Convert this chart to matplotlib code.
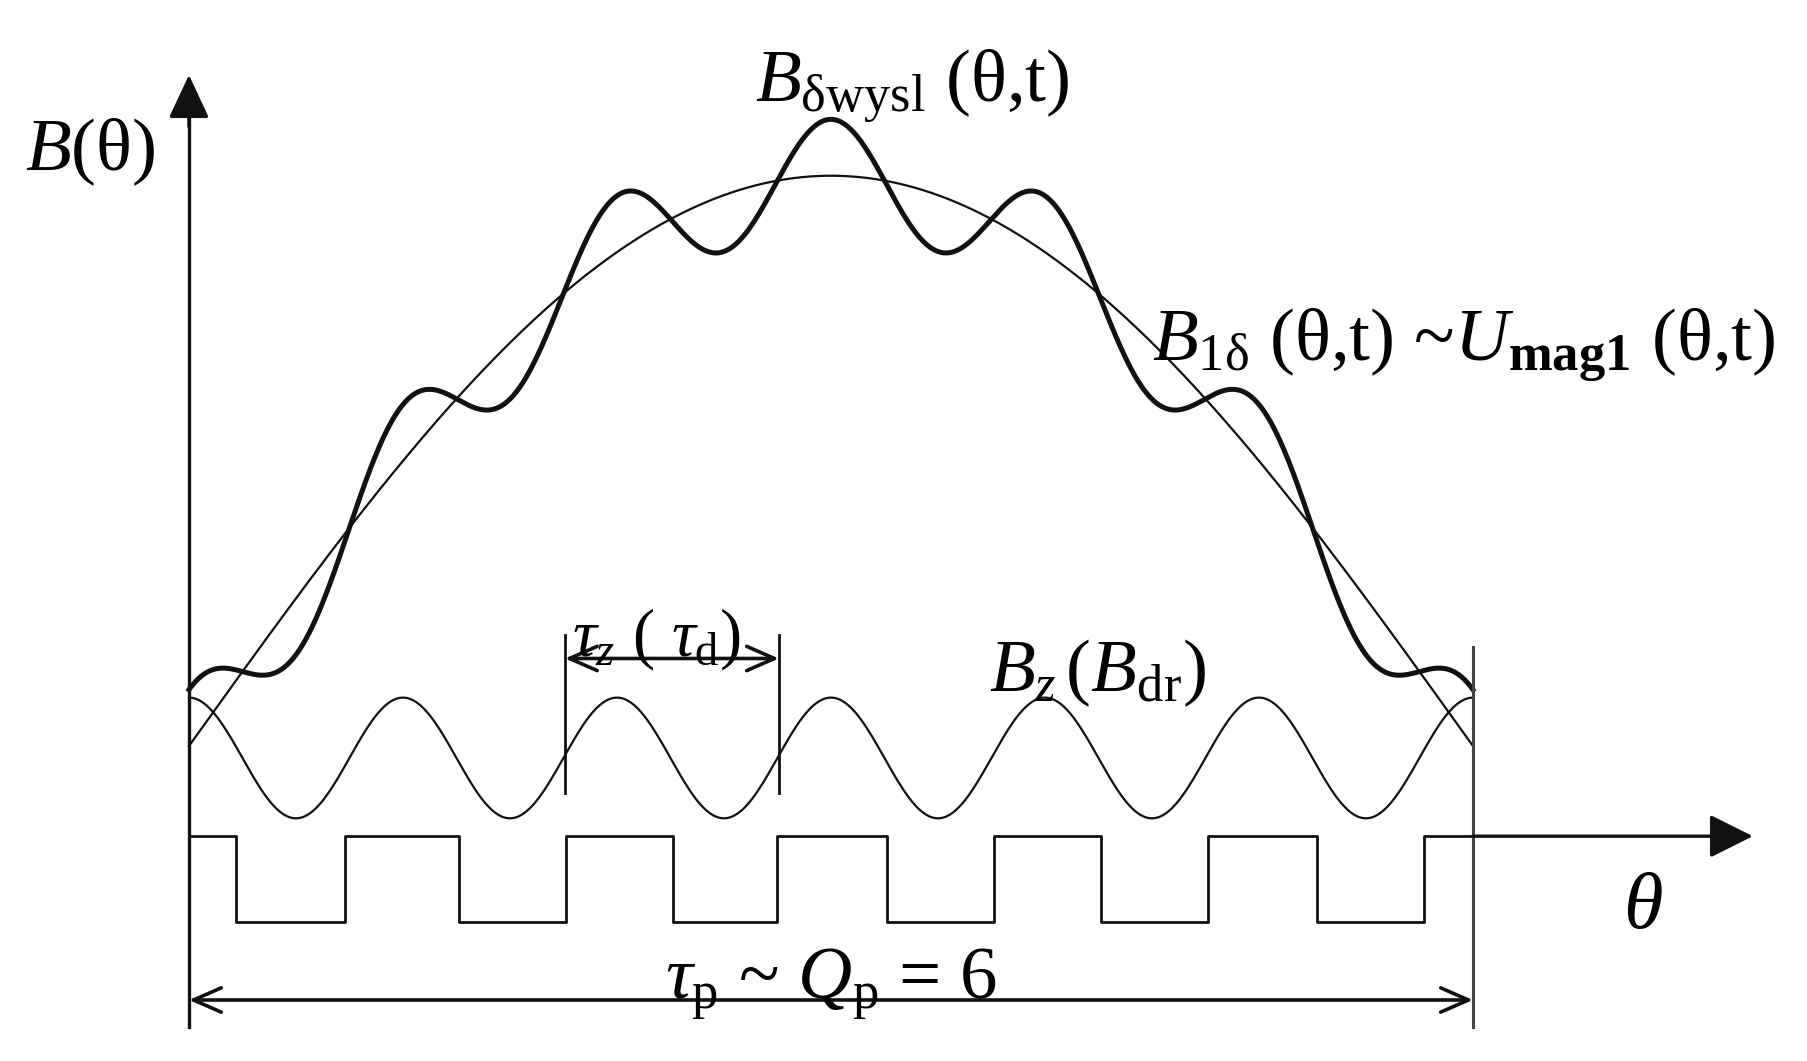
import numpy as np
import matplotlib.pyplot as plt

plt.rcParams['font.family'] = ['Liberation Serif', 'DejaVu Serif']
plt.rcParams['mathtext.fontset'] = 'custom'
plt.rcParams['mathtext.rm'] = 'Liberation Serif'
plt.rcParams['mathtext.it'] = 'Liberation Serif:italic'
plt.rcParams['mathtext.bf'] = 'Liberation Serif:bold'

# pole pitch expressed in slot pitches (Qp = 6)
Q_P = 6
# fundamental B1(theta) = offset + amp * sin(pi * theta / Qp)
B1_OFFSET = 0.136
B1_AMP = 0.86
# slot ripple added on top of the fundamental (thick curve)
RIPPLE_AMP = 0.085
# tooth wave Bz (thin wave under the curves)
BZ_MEAN = 0.118
BZ_AMP = 0.091
# slot openings along the pole pitch, in slot pitches
slot_start = [0.22, 1.26, 2.26, 3.26, 4.26, 5.27]
slot_end = [0.73, 1.76, 2.75, 3.76, 4.76, 5.77]
SLOT_DEPTH = -0.13
# one slot pitch marked with the tau_z dimension
tau_z_span = (1.757, 2.757)

theta = np.linspace(0, Q_P, 800)
b1 = B1_OFFSET + B1_AMP * np.sin(np.pi * theta / Q_P)
b_wysl = b1 + RIPPLE_AMP * np.cos(2 * np.pi * theta)
b_z = BZ_MEAN + BZ_AMP * np.cos(2 * np.pi * theta)

# stepped outline of the teeth and slots
sq_x, sq_y = [0.0], [0.0]
for s, e in zip(slot_start, slot_end):
    sq_x += [s, s, e, e]
    sq_y += [0.0, SLOT_DEPTH, SLOT_DEPTH, 0.0]
sq_x.append(Q_P)
sq_y.append(0.0)

fig = plt.figure(figsize=(18.07, 10.61), dpi=100)
ax = fig.add_axes([0, 0, 1, 1])
ax.set_xlim(-0.883, 7.561)
ax.set_ylim(-0.339, 1.261)
ax.axis('off')

col = '#111111'
ax.plot(theta, b1, color=col, lw=1.6)
ax.plot(theta, b_wysl, color=col, lw=3.6)
ax.plot(theta, b_z, color=col, lw=1.6)
ax.plot(sq_x, sq_y, color=col, lw=2.0)

# axes with filled arrowheads
ax.plot([0, 0], [-0.288, 1.10], color=col, lw=2.4)
ax.annotate('', xy=(0, 1.148), xytext=(0, 1.07),
            arrowprops=dict(arrowstyle='-|>,head_length=0.9,head_width=0.42',
                            color=col, lw=2.4, mutation_scale=30,
                            shrinkA=0, shrinkB=0))
ax.annotate('', xy=(7.308, 0), xytext=(Q_P, 0),
            arrowprops=dict(arrowstyle='-|>,head_length=0.9,head_width=0.45',
                            color=col, lw=2.4, mutation_scale=30,
                            shrinkA=0, shrinkB=0))

# end of pole pitch
ax.plot([Q_P, Q_P], [-0.288, 0.285], color='#444444', lw=2.2)

# pole pitch dimension
ax.annotate('', xy=(Q_P, -0.247), xytext=(0, -0.247),
            arrowprops=dict(arrowstyle='<->,head_length=0.8,head_width=0.35',
                            color=col, lw=2.6, mutation_scale=25,
                            shrinkA=0, shrinkB=0))

# slot pitch dimension
for tx in tau_z_span:
    ax.plot([tx, tx], [0.065, 0.303], color=col, lw=2.0)
ax.annotate('', xy=(tau_z_span[1], 0.268), xytext=(tau_z_span[0], 0.268),
            arrowprops=dict(arrowstyle='<->,head_length=0.8,head_width=0.35',
                            color=col, lw=2.6, mutation_scale=25,
                            shrinkA=0, shrinkB=0))

fs = 54
ax.text(-0.463, 1.032, r'$B$(θ)', fontsize=fs, ha='center', va='center')
ax.text(2.645, 1.109, r'$B_{\mathrm{δwysl}}$ (θ,t)', fontsize=fs, va='baseline')
ax.text(4.50, 0.718, r'$B_{\mathrm{1δ}}$ (θ,t) ~$U_{\mathbf{mag1}}$ (θ,t)',
        fontsize=fs, va='baseline')
ax.text(3.738, 0.219, r'$B_z\,(B_{\mathrm{dr}})$', fontsize=fs, va='baseline')
ax.text(1.79, 0.272, r'$τ_z$ ( $τ_{\mathrm{d}}$)', fontsize=fs - 6, va='baseline')
ax.text(Q_P / 2, -0.243, r'$τ_{\mathrm{p}}$ ~ $Q_{\mathrm{p}}$ = 6', fontsize=fs,
        ha='center', va='baseline')
ax.text(6.794, -0.109, r'$θ$', fontsize=fs + 4, ha='center', va='center')

fig.savefig('out.png', dpi=100, facecolor='white')
